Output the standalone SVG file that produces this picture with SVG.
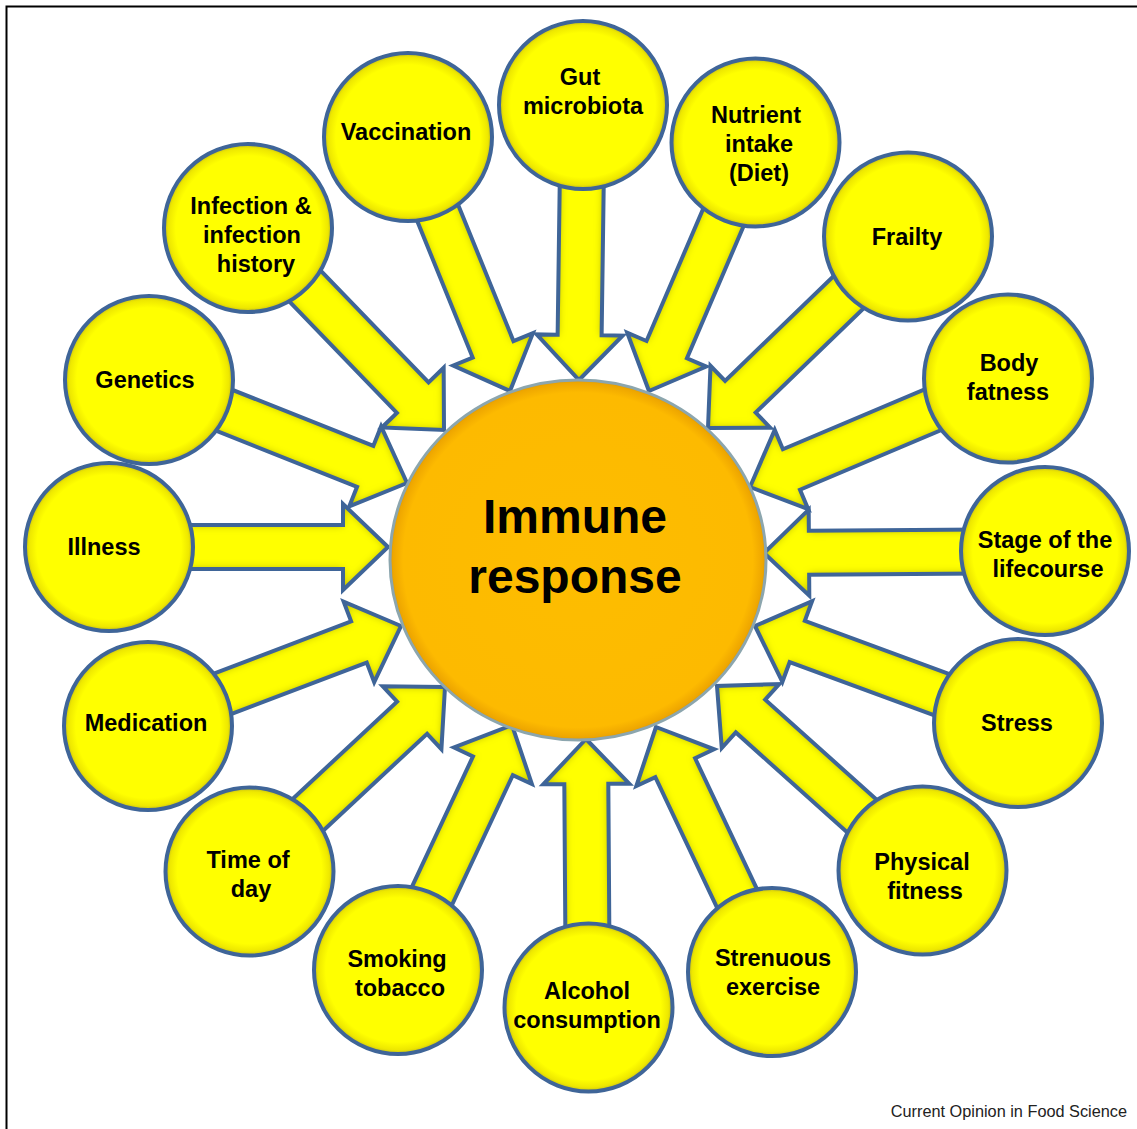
<svg xmlns="http://www.w3.org/2000/svg" xmlns:xlink="http://www.w3.org/1999/xlink" width="1137" height="1129" viewBox="0 0 1137 1129">
<style>
.lbl{font-family:"Liberation Sans",Arial,sans-serif;font-weight:bold;font-size:23.5px;fill:#000;text-anchor:middle}
.big{font-family:"Liberation Sans",Arial,sans-serif;font-weight:bold;font-size:48px;fill:#000;text-anchor:middle}
.foot{font-family:"Liberation Sans",Arial,sans-serif;font-size:16.3px;fill:#222;text-anchor:end}
.node{fill:url(#yg);stroke:#3f6598;stroke-width:4}
.af{fill:#ffff00;stroke:none;filter:url(#inner)}
.as{fill:none;stroke:#3f6598;stroke-width:4;stroke-linejoin:miter}
</style>
<defs>
<radialGradient id="yg" cx="0.5" cy="0.5" r="0.5">
<stop offset="0" stop-color="#ffff00"/>
<stop offset="0.86" stop-color="#ffff00"/>
<stop offset="0.95" stop-color="#eee800"/>
<stop offset="1" stop-color="#c4bb18"/>
</radialGradient>
<radialGradient id="og" cx="0.5" cy="0.5" r="0.5">
<stop offset="0" stop-color="#fdbd00"/>
<stop offset="0.93" stop-color="#fdba00"/>
<stop offset="0.985" stop-color="#eea600"/>
<stop offset="1" stop-color="#dc9800"/>
</radialGradient>
<filter id="inner" x="-20%" y="-20%" width="140%" height="140%">
<feGaussianBlur in="SourceAlpha" stdDeviation="4" result="b"/>
<feComposite in="SourceAlpha" in2="b" operator="arithmetic" k2="1" k3="-1" result="edge"/>
<feFlood flood-color="#8a8400" flood-opacity="0.9"/>
<feComposite in2="edge" operator="in" result="shade"/>
<feMerge><feMergeNode in="SourceGraphic"/><feMergeNode in="shade"/></feMerge>
</filter>
<g id="ar">
<polygon class="af" points="0,0 -45,-43 -45,-22 -290,-22 -290,22 -45,22 -45,43"/>
<polygon class="as" points="0,0 -45,-43 -45,-22 -290,-22 -290,22 -45,22 -45,43"/>
</g>
</defs>
<rect width="1137" height="1129" fill="#fff"/>
<path d="M6.5,1129 V6.5 H1137" fill="none" stroke="#000" stroke-width="2"/>

<g id="connectors">
<use href="#ar" transform="translate(579,380) rotate(90.8)"/>
<use href="#ar" transform="translate(649,391) rotate(113.2)"/>
<use href="#ar" transform="translate(708,428) rotate(136)"/>
<use href="#ar" transform="translate(750,487) rotate(157.1)"/>
<use href="#ar" transform="translate(764,553) rotate(179.6)"/>
<use href="#ar" transform="translate(755,626) rotate(-159.8)"/>
<use href="#ar" transform="translate(717,686) rotate(-138.1)"/>
<use href="#ar" transform="translate(656,727) rotate(-115.3)"/>
<use href="#ar" transform="translate(586,739) rotate(-90.4)"/>
<use href="#ar" transform="translate(512,725) rotate(-64.9)"/>
<use href="#ar" transform="translate(445,687) rotate(-43)"/>
<use href="#ar" transform="translate(401,626) rotate(-20.8)"/>
<use href="#ar" transform="translate(388,547) rotate(0)"/>
<use href="#ar" transform="translate(407,483) rotate(21.7)"/>
<use href="#ar" transform="translate(444,430) rotate(46)"/>
<use href="#ar" transform="translate(510,391) rotate(67.9)"/>
</g>

<g id="immune">
<ellipse cx="578" cy="560" rx="188" ry="180" fill="url(#og)" stroke="#8ca6ae" stroke-width="3"/>
<text class="big" x="575" y="533">Immune</text>
<text class="big" x="575" y="593">response</text>
</g>

<g id="gut"><circle class="node" cx="583" cy="105" r="84"/><text class="lbl" x="580" y="85">Gut</text><text class="lbl" x="583" y="114">microbiota</text></g>
<g id="nutrient"><circle class="node" cx="755.5" cy="142.5" r="84"/><text class="lbl" x="756" y="123">Nutrient</text><text class="lbl" x="759" y="152">intake</text><text class="lbl" x="759" y="181">(Diet)</text></g>
<g id="frailty"><circle class="node" cx="908" cy="236.5" r="84"/><text class="lbl" x="907" y="245">Frailty</text></g>
<g id="body"><circle class="node" cx="1008" cy="378.5" r="84"/><text class="lbl" x="1009" y="371">Body</text><text class="lbl" x="1008" y="400">fatness</text></g>
<g id="stage"><circle class="node" cx="1045" cy="551" r="84"/><text class="lbl" x="1045" y="548">Stage of the</text><text class="lbl" x="1048" y="577">lifecourse</text></g>
<g id="stress"><circle class="node" cx="1018" cy="723" r="84"/><text class="lbl" x="1017" y="731">Stress</text></g>
<g id="physical"><circle class="node" cx="922.5" cy="870.5" r="84"/><text class="lbl" x="922" y="870">Physical</text><text class="lbl" x="925" y="899">fitness</text></g>
<g id="strenuous"><circle class="node" cx="772" cy="972" r="84"/><text class="lbl" x="773" y="966">Strenuous</text><text class="lbl" x="773" y="995">exercise</text></g>
<g id="alcohol"><circle class="node" cx="588.5" cy="1007.5" r="84"/><text class="lbl" x="587" y="999">Alcohol</text><text class="lbl" x="587" y="1028">consumption</text></g>
<g id="smoking"><circle class="node" cx="398" cy="970" r="84"/><text class="lbl" x="397" y="967">Smoking</text><text class="lbl" x="400" y="996">tobacco</text></g>
<g id="time"><circle class="node" cx="249.5" cy="871.5" r="84"/><text class="lbl" x="248" y="868">Time of</text><text class="lbl" x="251" y="897">day</text></g>
<g id="medication"><circle class="node" cx="148" cy="726" r="84"/><text class="lbl" x="146" y="731">Medication</text></g>
<g id="illness"><circle class="node" cx="109" cy="547" r="84"/><text class="lbl" x="104" y="555">Illness</text></g>
<g id="genetics"><circle class="node" cx="149" cy="380" r="84"/><text class="lbl" x="145" y="388">Genetics</text></g>
<g id="infection"><circle class="node" cx="248" cy="228" r="84"/><text class="lbl" x="251" y="214">Infection &amp;</text><text class="lbl" x="252" y="243">infection</text><text class="lbl" x="256" y="272">history</text></g>
<g id="vaccination"><circle class="node" cx="408" cy="137" r="84"/><text class="lbl" x="406" y="140">Vaccination</text></g>

<text class="foot" x="1127" y="1117">Current Opinion in Food Science</text>
</svg>
